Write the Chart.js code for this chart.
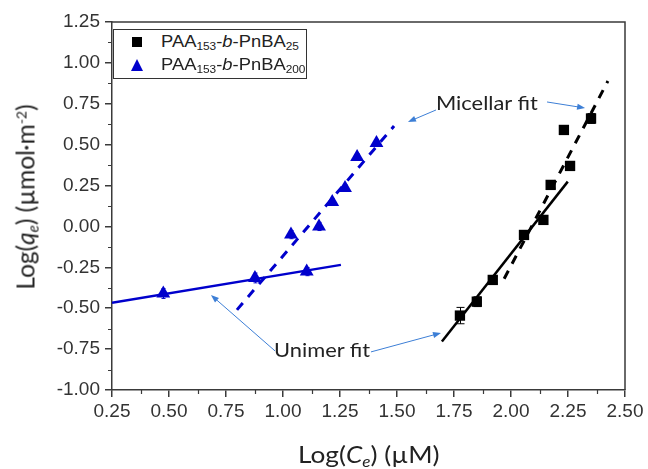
<!DOCTYPE html>
<html>
<head>
<meta charset="utf-8">
<script src="https://cdn.jsdelivr.net/npm/chart.js@4.4.0/dist/chart.umd.min.js"></script>
<style>
    body { margin: 0; background: #fff; }
    #wrap { position: relative; width: 648px; height: 469px; }
    .txt { position: absolute; white-space: nowrap; color: #222; }
    .axis-title { font-family: Lato, "Open Sans", sans-serif; font-size: 23px; }
    .note { font-family: Lato, "Open Sans", sans-serif; font-size: 19px; color: #222; transform: scaleX(1.15); transform-origin: 0 0; }
    #legend {
        position: absolute; left: 113px; top: 29px; width: 192px; height: 48px;
        border: 1.5px solid #333; background: #fff;
        font-family: "Liberation Sans", Arial, sans-serif; font-size: 17px; color: #222;
    }
    .leg-row { position: absolute; left: 0; height: 22px; line-height: 22px; }
    .leg-row span.lbl { position: absolute; left: 47px; top: 0; white-space: nowrap; transform: scaleX(1.08); transform-origin: 0 0; }
    .leg-row sub { font-size: 11px; vertical-align: -3px; }
    .sq { position: absolute; left: 18px; top: 6px; width: 10px; height: 10px; background: #000; }
    .tri { position: absolute; left: 17px; top: 5px; width: 0; height: 0;
        border-left: 6.5px solid transparent; border-right: 6.5px solid transparent; border-bottom: 12px solid #0000cc; }
    sub.t { font-size: 15px; vertical-align: -4px; }
    sup.t { font-size: 14px; vertical-align: 8px; }
</style>
</head>
<body>
<div id="wrap">
    <canvas id="chart" width="648" height="469"></canvas>

    <div id="legend">
        <div class="leg-row" style="top:1px"><div class="sq"></div><span class="lbl">PAA<sub>153</sub>-<i>b</i>-PnBA<sub>25</sub></span></div>
        <div class="leg-row" style="top:24px"><div class="tri"></div><span class="lbl">PAA<sub>153</sub>-<i>b</i>-PnBA<sub>200</sub></span></div>
    </div>

    <div class="txt axis-title" style="left:298px; top:440px; transform: scaleX(1.14); transform-origin: 0 0;">Log(<i>C</i><sub class="t"><i>e</i></sub>) (µM)</div>
    <div class="txt axis-title" style="left:26px; top:197px; font-size:24.5px; transform: translate(-50%, -50%) rotate(-90deg);">Log(<i>q</i><sub class="t"><i>e</i></sub>) (µmol·m<sup class="t">-2</sup>)</div>

    <div class="txt note" style="left:436px; top:91px;">Micellar fit</div>
    <div class="txt note" style="left:274px; top:338px;">Unimer fit</div>
</div>

<script>
// PAA153-b-PnBA25 (black squares)
const blackX = [1.776, 1.85, 1.92, 2.057, 2.142, 2.174, 2.232, 2.259, 2.351];
const blackY = [-0.545, -0.46, -0.327, -0.052, 0.04, 0.254, 0.59, 0.37, 0.66];
const blackErr = [0.05, 0.03, 0.02, 0.02, 0.02, 0.02, 0.02, 0.02, 0.03];

// PAA153-b-PnBA200 (blue triangles)
const blueX = [0.475, 0.877, 1.035, 1.104, 1.158, 1.216, 1.272, 1.325, 1.41];
const blueY = [-0.41, -0.315, -0.05, -0.276, 0.0, 0.15, 0.235, 0.425, 0.51];
const blueErr = [0.03, 0.03, 0.025, 0.025, 0.025, 0.02, 0.02, 0.02, 0.02];

// fit lines (end points)
const blueUnimerX = [0.25, 1.254];
const blueUnimerY = [-0.466, -0.235];
const blueMicellarX = [0.798, 1.487];
const blueMicellarY = [-0.51, 0.614];
const blackUnimerX = [1.697, 2.249];
const blackUnimerY = [-0.704, 0.274];
const blackMicellarX = [1.97, 2.425];
const blackMicellarY = [-0.32, 0.889];

// annotation arrows, in data units: [fromX, fromY, toX, toY]
const arrows = [
    [1.671, 0.712, 1.548, 0.639],
    [2.158, 0.761, 2.325, 0.724],
    [0.965, -0.761, 0.684, -0.419],
    [1.386, -0.767, 1.693, -0.651]
];

const xTicks = { min: 0.25, max: 2.5, step: 0.25 };
const yTicks = { min: -1.0, max: 1.25, step: 0.25 };

const BLUE = '#0000cc';
const AXIS = '#3a3a3a';

function pts(xs, ys) {
    return xs.map((x, i) => ({ x: x, y: ys[i] }));
}

function fitLine(xs, ys, color, dashed) {
    return {
        data: pts(xs, ys),
        showLine: true,
        borderColor: color,
        borderWidth: dashed ? 3 : 2.5,
        borderDash: dashed ? [9, 8] : [],
        pointRadius: 0,
        fill: false
    };
}

const errorBars = {
    id: 'errorBars',
    afterDatasetsDraw(chart) {
        const ctx = chart.ctx;
        const xs = chart.scales.x, ys = chart.scales.y;
        chart.data.datasets.forEach(ds => {
            if (!ds.err) return;
            ctx.save();
            ctx.strokeStyle = ds.backgroundColor;
            ctx.lineWidth = 1;
            const cap = ds.capWidth;
            ds.data.forEach((p, i) => {
                const px = Math.round(xs.getPixelForValue(p.x)) + 0.5;
                const top = ys.getPixelForValue(p.y + ds.err[i]);
                const bot = ys.getPixelForValue(p.y - ds.err[i]);
                ctx.beginPath();
                ctx.moveTo(px, top); ctx.lineTo(px, bot);
                ctx.moveTo(px - cap, top); ctx.lineTo(px + cap, top);
                ctx.moveTo(px - cap, bot); ctx.lineTo(px + cap, bot);
                ctx.stroke();
            });
            ctx.restore();
        });
    }
};

const frameAndMinor = {
    id: 'frameAndMinor',
    afterDraw(chart) {
        const ctx = chart.ctx;
        const a = chart.chartArea;
        const xs = chart.scales.x, ys = chart.scales.y;
        ctx.save();
        ctx.strokeStyle = AXIS;
        ctx.lineWidth = 1.5;
        ctx.beginPath();
        ctx.moveTo(a.left, a.top); ctx.lineTo(a.right, a.top); ctx.lineTo(a.right, a.bottom);
        ctx.stroke();
        ctx.lineWidth = 1.2;
        ctx.beginPath();
        for (let v = xTicks.min + xTicks.step / 2; v < xTicks.max; v += xTicks.step) {
            const px = Math.round(xs.getPixelForValue(v)) + 0.5;
            ctx.moveTo(px, a.bottom); ctx.lineTo(px, a.bottom + 4);
        }
        for (let v = yTicks.min + yTicks.step / 2; v < yTicks.max; v += yTicks.step) {
            const py = Math.round(ys.getPixelForValue(v)) + 0.5;
            ctx.moveTo(a.left, py); ctx.lineTo(a.left - 4, py);
        }
        ctx.stroke();

        // annotation arrows
        ctx.strokeStyle = '#3d7fd6';
        ctx.fillStyle = '#3d7fd6';
        ctx.lineWidth = 1;
        arrows.forEach(ar => {
            const x1 = xs.getPixelForValue(ar[0]), y1 = ys.getPixelForValue(ar[1]);
            const x2 = xs.getPixelForValue(ar[2]), y2 = ys.getPixelForValue(ar[3]);
            const ang = Math.atan2(y2 - y1, x2 - x1);
            ctx.beginPath();
            ctx.moveTo(x1, y1); ctx.lineTo(x2 - 6 * Math.cos(ang), y2 - 6 * Math.sin(ang));
            ctx.stroke();
            ctx.beginPath();
            ctx.moveTo(x2, y2);
            ctx.lineTo(x2 - 8 * Math.cos(ang) + 3 * Math.sin(ang), y2 - 8 * Math.sin(ang) - 3 * Math.cos(ang));
            ctx.lineTo(x2 - 8 * Math.cos(ang) - 3 * Math.sin(ang), y2 - 8 * Math.sin(ang) + 3 * Math.cos(ang));
            ctx.closePath();
            ctx.fill();
        });
        ctx.restore();
    }
};

const tickFont = { family: '"Liberation Sans", Arial, sans-serif', size: 19 };

function axis(lim, fitFn, pad) {
    return {
        type: 'linear',
        min: lim.min,
        max: lim.max,
        ticks: {
            stepSize: lim.step,
            color: '#333',
            font: tickFont,
            padding: pad,
            callback: v => v.toFixed(2)
        },
        grid: {
            drawOnChartArea: false,
            tickLength: 7,
            color: AXIS,
            lineWidth: 1.5
        },
        border: { color: AXIS, width: 1.5 },
        afterFit: fitFn
    };
}

function createChart() {
    const ctx = document.getElementById('chart').getContext('2d');
    new Chart(ctx, {
        type: 'scatter',
        data: {
            datasets: [
                {
                    data: pts(blackX, blackY),
                    err: blackErr,
                    capWidth: 4,
                    backgroundColor: '#000',
                    borderColor: '#000',
                    pointStyle: 'rect',
                    pointRadius: 7.3,
                    borderWidth: 0
                },
                {
                    data: pts(blueX, blueY),
                    err: blueErr,
                    capWidth: 2,
                    backgroundColor: BLUE,
                    borderColor: BLUE,
                    pointStyle: 'triangle',
                    pointRadius: 8,
                    borderWidth: 0
                },
                fitLine(blackUnimerX, blackUnimerY, '#000', false),
                fitLine(blackMicellarX, blackMicellarY, '#000', true),
                fitLine(blueUnimerX, blueUnimerY, BLUE, false),
                fitLine(blueMicellarX, blueMicellarY, BLUE, true)
            ]
        },
        options: {
            responsive: false,
            animation: false,
            devicePixelRatio: 1,
            layout: { padding: { top: 22, right: 23, left: 0, bottom: 0 } },
            plugins: {
                legend: { display: false },
                tooltip: { enabled: false }
            },
            scales: {
                x: axis(xTicks, s => { s.height = 79; }, 3),
                y: axis(yTicks, s => { s.width = 112; }, 5)
            }
        },
        plugins: [errorBars, frameAndMinor]
    });
}

document.addEventListener('DOMContentLoaded', createChart);
</script>
</body>
</html>
